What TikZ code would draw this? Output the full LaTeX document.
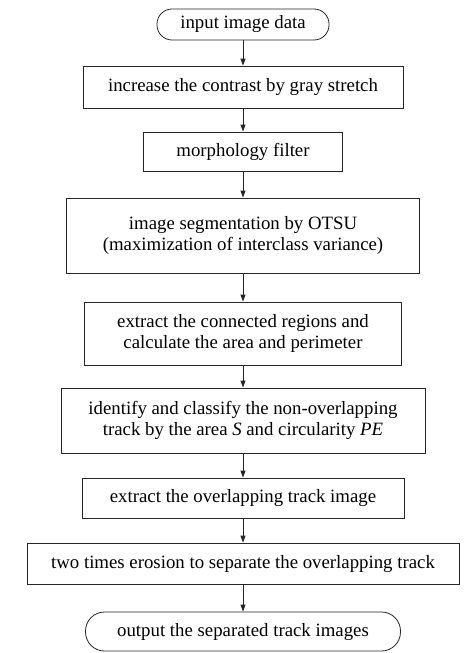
\documentclass[tikz,border=0pt]{standalone}
\usepackage{fontspec}
\setmainfont{Liberation Serif}
\usetikzlibrary{arrows.meta}
\begin{document}
\begin{tikzpicture}[x=1pt,y=-1pt,
  box/.style={draw=black!85, line width=0.8pt, inner sep=0pt, align=center,
    font=\fontsize{18.8}{21.5}\selectfont},
  arr/.style={draw=black!85, -{Triangle[length=7pt,width=5pt]}, line width=0.8pt}]
\useasboundingbox (0,0) rectangle (473,653);
\node[box, rounded corners=15pt, minimum width=172pt, minimum height=31pt] (t1) at (243,24.5) {input image data};
\node[box, minimum width=320pt, minimum height=42pt] (b2) at (243,87) {increase the contrast by gray stretch};
\node[box, minimum width=199pt, minimum height=39pt] (b3) at (243,151.5) {morphology filter};
\node[box, minimum width=353pt, minimum height=75pt] (b4) at (243,235.5) {image segmentation by OTSU\\(maximization of interclass variance)};
\node[box, minimum width=317pt, minimum height=63pt] (b5) at (243,333.5) {extract the connected regions and\\calculate the area and perimeter};
\node[box, minimum width=364pt, minimum height=65pt] (b6) at (243,420.5) {identify and classify the non-overlapping\\track by the area \textit{S} and circularity \textit{PE}};
\node[box, minimum width=322pt, minimum height=40pt] (b7) at (243,498) {extract the overlapping track image};
\node[box, minimum width=432pt, minimum height=41pt] (b8) at (243,563.5) {two times erosion to separate the overlapping track};
\node[box, rounded corners=19pt, minimum width=315pt, minimum height=39pt] (t2) at (243,631.5) {output the separated track images};
\draw[arr] (t1) -- (b2);
\draw[arr] (b2) -- (b3);
\draw[arr] (b3) -- (b4);
\draw[arr] (b4) -- (b5);
\draw[arr] (b5) -- (b6);
\draw[arr] (b6) -- (b7);
\draw[arr] (b7) -- (b8);
\draw[arr] (b8) -- (t2);
\end{tikzpicture}
\end{document}
